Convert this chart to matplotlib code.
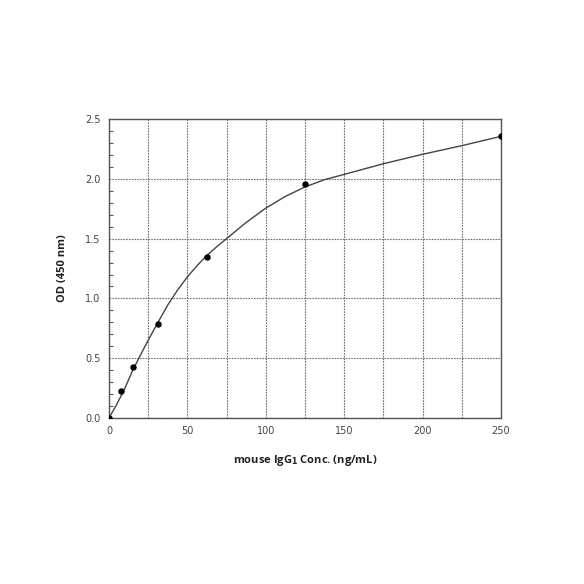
import matplotlib
matplotlib.use("Agg")
import matplotlib.pyplot as plt
from matplotlib.ticker import MultipleLocator

# Standard points
conc = [0, 7.8, 15.6, 31.25, 62.5, 125, 250]
od = [0.0, 0.226, 0.43, 0.79, 1.35, 1.96, 2.36]

# Fitted curve
curve_x = [0, 5, 10, 15, 20, 25, 31.25, 37.5, 43.75, 50, 56.25, 62.5, 68.75, 75,
           87.5, 100, 112.5, 125, 137.5, 150, 175, 200, 225, 250]
curve_y = [0.0, 0.115, 0.245, 0.395, 0.525, 0.65, 0.80, 0.945, 1.07, 1.18, 1.275, 1.36,
           1.432, 1.50, 1.635, 1.755, 1.853, 1.932, 1.993, 2.037, 2.126, 2.205, 2.277, 2.355]

xticks = [0, 50, 100, 150, 200, 250]
yticks = [0.0, 0.5, 1.0, 1.5, 2.0, 2.5]

fig = plt.figure(figsize=(5.84, 5.84), dpi=100)
ax = fig.add_axes([0.1866, 0.2842, 0.6712, 0.512])

ax.plot(curve_x, curve_y, color="#444444", lw=1.0, zorder=3, solid_joinstyle="round")
ax.plot(conc, od, "o", color="black", ms=3.6, zorder=4)

ax.set_xlim(0, 250)
ax.set_ylim(0, 2.5)
ax.set_xticks(xticks)
ax.set_yticks(yticks)
ax.set_yticklabels([f"{v:.1f}" for v in yticks])
ax.xaxis.set_minor_locator(MultipleLocator(25))
ax.yaxis.set_minor_locator(MultipleLocator(0.1))

gl = dict(color="#707070", ls=(0, (1.5, 1)), lw=0.8)
ax.grid(which="major", axis="y", **gl)
ax.grid(which="minor", axis="x", **gl)
ax.grid(which="major", axis="x", **gl)

ax.tick_params(axis="both", which="major", length=0, labelsize=7, labelcolor="#444444", pad=6)
ax.tick_params(axis="x", which="minor", length=0)
ax.tick_params(axis="y", which="minor", direction="in", length=3, color="#555555", width=0.8)
ax.tick_params(axis="y", which="major", direction="in", length=0)

for s in ax.spines.values():
    s.set_color("#555555")
    s.set_linewidth(1.0)

ax.set_xlabel(r"mouse IgG$_\mathbf{1}$ Conc. (ng/mL)", fontsize=8, fontweight="bold",
              family="Open Sans", color="#222222", labelpad=12)
ax.set_ylabel("OD (450 nm)", fontsize=8, fontweight="bold", family="Open Sans",
              color="#222222", labelpad=12)

fig.savefig("out.png", dpi=100, facecolor="white")
